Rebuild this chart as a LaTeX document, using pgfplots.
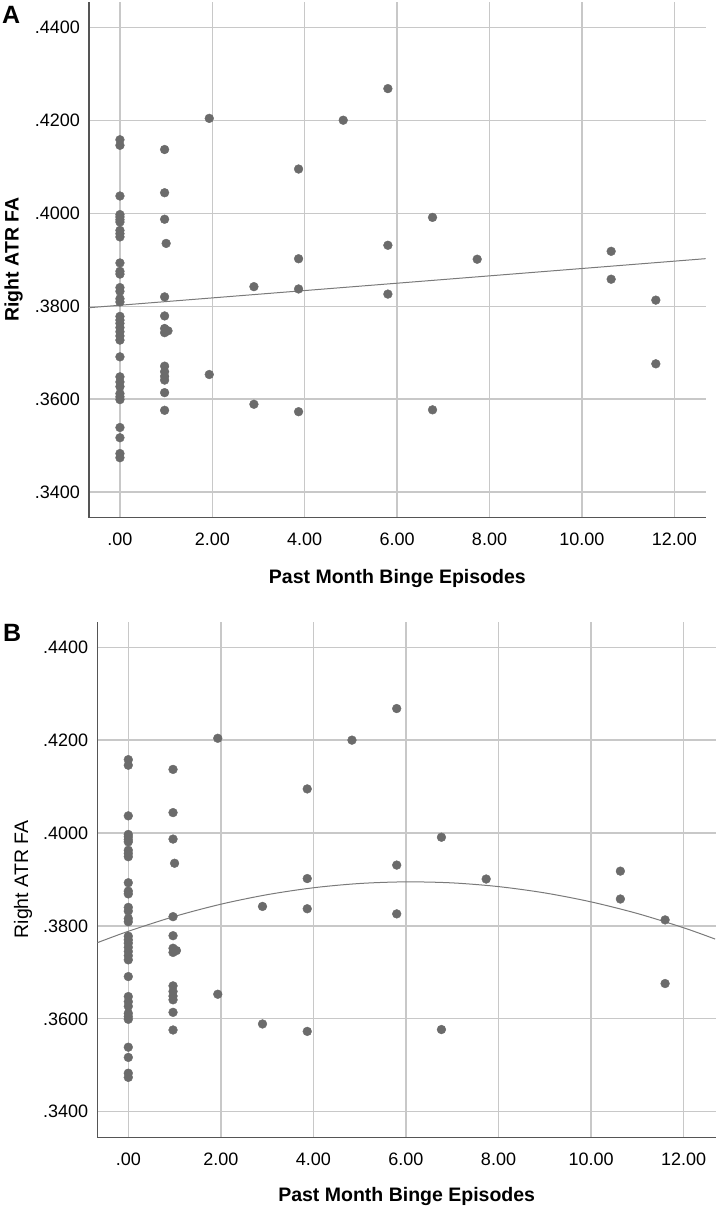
\documentclass[border=0pt]{standalone}
\usepackage{fontspec}
\setmainfont{Liberation Sans}
\usepackage{pgfplots}
\pgfplotsset{compat=1.18}
\definecolor{ptcol}{HTML}{6B6B6B}
\definecolor{gridcol}{HTML}{C8C8C8}
\definecolor{axcol}{HTML}{555555}
\definecolor{fitcol}{HTML}{7A7A7A}
\pgfplotsset{
  spss/.style={
    scale only axis,
    anchor=south west,
    xmin=-0.67, xmax=12.68,
    ymin=0.3345, ymax=0.4455,
    axis x line*=bottom, axis y line*=left,
    axis line style={-, color=axcol, line width=1.3pt},
    xtick={0,2,4,6,8,10,12},
    xticklabels={.00,2.00,4.00,6.00,8.00,10.00,12.00},
    ytick={0.34,0.36,0.38,0.40,0.42,0.44},
    yticklabels={.3400,.3600,.3800,.4000,.4200,.4400},
    major tick length=0pt,
    grid=major,
    major grid style={color=gridcol, line width=1.3pt},
    tick label style={font=\fontsize{18}{18}\selectfont, inner sep=0pt, text=black},
    yticklabel style={anchor=east, xshift=-9pt},
    xticklabel style={anchor=center, yshift=-22pt},
    xlabel={Past Month Binge Episodes},
    ylabel={Right ATR FA},
    label style={font=\fontsize{19.5}{19.5}\selectfont\bfseries, inner sep=0pt},
    scaled y ticks=false,
  }
}
\pgfplotstableread{
x y
0 0.4158
0 0.4146
0 0.4037
0 0.3997
0 0.3992
0 0.3986
0 0.3981
0 0.3963
0 0.3956
0 0.3949
0 0.3893
0 0.3875
0 0.3869
0 0.3840
0 0.3832
0 0.3816
0 0.3809
0 0.3778
0 0.3770
0 0.3763
0 0.3754
0 0.3745
0 0.3736
0 0.3727
0 0.3691
0 0.3648
0 0.3637
0 0.3627
0 0.3612
0 0.3605
0 0.3599
0 0.3539
0 0.3517
0 0.3483
0 0.3474
0.9667 0.4137
0.9667 0.4044
0.9667 0.3987
1.0000 0.3935
0.9667 0.3820
0.9667 0.3779
0.9667 0.3752
1.0400 0.3747
0.9667 0.3743
0.9667 0.3671
0.9667 0.3659
0.9667 0.3649
0.9667 0.3641
0.9667 0.3614
0.9667 0.3576
1.9333 0.4204
1.9333 0.3653
2.9000 0.3842
2.9000 0.3589
3.8667 0.4095
3.8667 0.3902
3.8667 0.3837
3.8667 0.3573
4.8333 0.4200
5.8000 0.4268
5.8000 0.3931
5.8000 0.3826
6.7667 0.3991
6.7667 0.3577
7.7333 0.3901
10.6333 0.3918
10.6333 0.3858
11.6000 0.3813
11.6000 0.3676
}\datatable
\pgfplotstableread{
x y
-0.67 0.37967
12.68 0.39022
}\linfit
\pgfplotstableread{
x y
-0.67 0.37639
0 0.37885
1 0.38205
2 0.38468
3 0.38673
4 0.38822
5 0.38914
6 0.38949
7 0.38927
8 0.38847
9 0.38711
10 0.38518
11 0.38268
12 0.37961
12.68 0.37718
}\quadfit
\begin{document}
\begin{tikzpicture}[x=1pt,y=1pt]
\path[use as bounding box] (0,0) rectangle (717,1209);
% Panel A
\begin{axis}[spss,
  at={(89pt,691.3pt)}, width=616.7pt, height=516pt,
  xlabel style={at={(axis description cs:0.5,-0.1174)}, anchor=center},
  ylabel style={at={(axis description cs:-0.1223,0.5)}, anchor=center, rotate=0},
]
\addplot[color=fitcol, line width=1pt] table {\linfit};
\addplot[only marks, mark=*, mark size=4.4pt, color=ptcol] table {\datatable};
\end{axis}
\node[anchor=west, inner sep=0pt, font=\fontsize{25}{25}\selectfont\bfseries] at (2,1194) {A};
% Panel B
\begin{axis}[spss,
  at={(97.3pt,71.7pt)}, width=618.7pt, height=515.6pt,
  xmax=12.7,
  xlabel style={at={(axis description cs:0.5,-0.1152)}, anchor=center},
  ylabel style={at={(axis description cs:-0.1201,0.5)}, anchor=center, font=\fontsize{19.5}{19.5}\selectfont\mdseries},
]
\addplot[color=fitcol, line width=1pt, smooth] table {\quadfit};
\addplot[only marks, mark=*, mark size=4.4pt, color=ptcol] table {\datatable};
\end{axis}
\node[anchor=west, inner sep=0pt, font=\fontsize{25}{25}\selectfont\bfseries] at (3,576) {B};
\end{tikzpicture}
\end{document}
